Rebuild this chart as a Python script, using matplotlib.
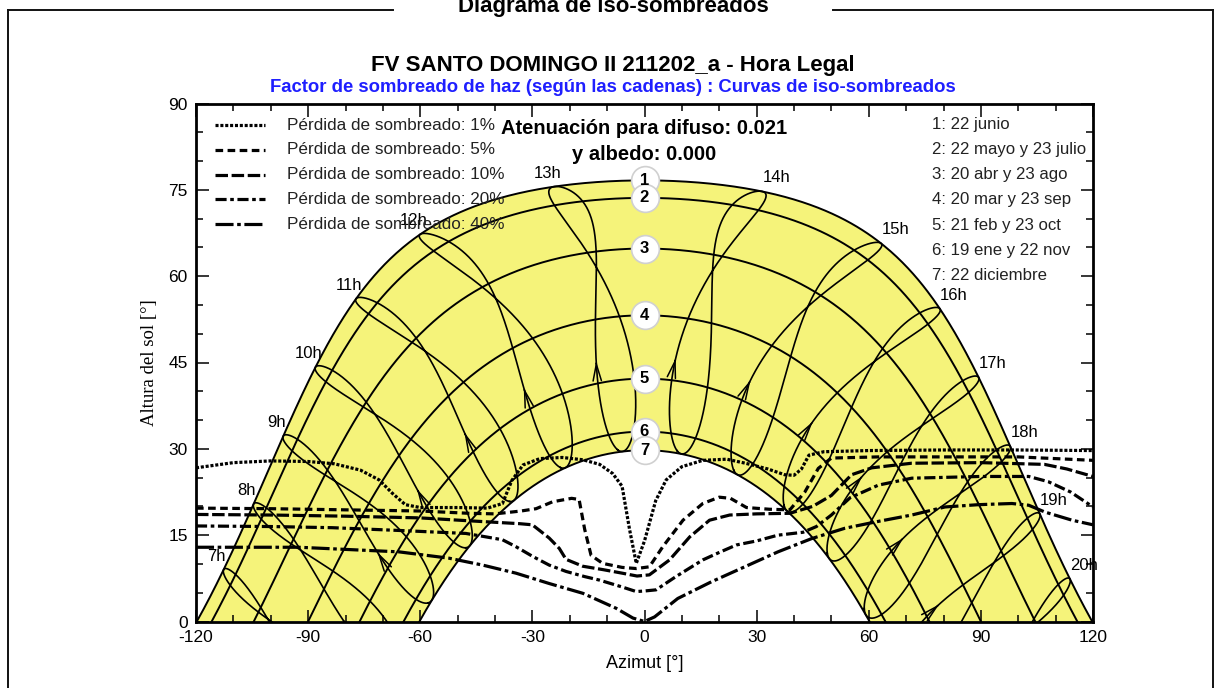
import numpy as np
import matplotlib
matplotlib.use("Agg")
import matplotlib.pyplot as plt
from matplotlib.lines import Line2D

plt.rcParams["font.family"] = ["Liberation Sans", "DejaVu Sans"]
plt.rcParams["lines.scale_dashes"] = False
plt.rcParams["axes.unicode_minus"] = False

# ---------------------------------------------------------------- site / time
LATITUDE = 36.8          # deg N
LONGITUDE = -6.0         # deg E
TIME_ZONE = 1.0          # legal time, hours from UTC

# ---------------------------------------------------------------- date curves
DATE_LABELS = ["1: 22 junio", "2: 22 mayo y 23 julio", "3: 20 abr y 23 ago",
               "4: 20 mar y 23 sep", "5: 21 feb y 23 oct", "6: 19 ene y 22 nov",
               "7: 22 diciembre"]
DATE_DECLINATIONS = [23.44, 20.4, 11.6, 0.0, -11.0, -20.2, -23.44]

# ---------------------------------------------------------------- hour lines
HOURS = list(range(7, 21))
ARROW_DAY = 62

# ---------------------------------------------------------------- iso-shading curves
ISO_LABELS = ["Pérdida de sombreado: 1%", "Pérdida de sombreado: 5%",
              "Pérdida de sombreado: 10%", "Pérdida de sombreado: 20%",
              "Pérdida de sombreado: 40%"]

ISO_1_AZ = [-120, -110, -100, -90, -83, -76, -71, -67.5, -64, -60, -50, -42, -38,
            -35.5, -32.5, -28, -22, -16.5, -12, -8.5, -6, -4, -2.2, 0, 3, 5.8, 10,
            15.6, 22, 27, 33, 37.5, 40, 42, 44, 48, 60, 80, 100, 120]
ISO_1_ALT = [26.7, 27.6, 27.9, 27.8, 27.4, 26.3, 24.6, 22.3, 20.3, 19.8, 19.8, 19.7, 20.5,
             24.5, 27.2, 28.3, 28.5, 28.1, 27.3, 25.7, 23.5, 16.0, 10.1, 14.0, 21.0, 24.6, 26.9,
             28.0, 28.2, 27.5, 26.5, 25.5, 25.4, 26.5, 28.9, 29.5, 29.7, 29.8, 29.8, 29.7]

ISO_5_AZ = [-120, -100, -80, -60, -47, -40, -33, -29, -24.6, -19.5, -17.5, -16, -14.3,
            -11.2, -6, -2.2, 1.3, 4.9, 10.3, 15.6, 20, 23, 27.3, 33.5, 38.9, 42.9, 46.5,
            50, 62.6, 80, 100, 110, 120]
ISO_5_ALT = [19.7, 19.6, 19.4, 19.2, 18.8, 18.7, 19.2, 19.6, 20.8, 21.4, 21.2, 16.0, 11.5,
             10.1, 9.4, 9.2, 9.5, 13.0, 17.6, 20.5, 21.6, 21.4, 19.8, 19.5, 19.4, 22.5, 26.6,
             28.4, 28.6, 28.6, 28.6, 28.3, 28.0]

ISO_10_AZ = [-120, -100, -80, -60, -47, -39, -33.5, -30, -25.5, -22.8, -21, -16.5, -11,
             -6, -2, 1.3, 6.7, 12.1, 17.4, 22.8, 30, 38.9, 45, 50, 55.4, 60.8, 71.5, 90,
             107, 113, 120]
ISO_10_ALT = [18.6, 18.5, 18.3, 18.0, 17.5, 17.2, 17.0, 16.8, 14.5, 12.7, 10.8, 9.6, 9.0,
              8.4, 7.9, 8.1, 10.7, 14.7, 17.6, 18.5, 18.7, 18.8, 20.0, 21.9, 25.5, 26.7, 27.5,
              27.6, 27.3, 26.5, 25.2]

ISO_20_AZ = [-120, -100, -83.6, -65, -47.8, -42.4, -38, -34.4, -29.9, -25.5, -21, -16,
             -12.1, -6, -2.2, 0, 3.1, 8.4, 15.6, 20, 24.6, 30, 35.7, 42.4, 46, 50, 55,
             62.6, 71.5, 90, 102.8, 108, 114, 120]
ISO_20_ALT = [16.6, 16.5, 16.3, 15.8, 15.3, 14.7, 14.2, 13.0, 11.3, 9.8, 8.7, 7.8,
              7.2, 6.0, 5.2, 5.3, 5.5, 7.8, 10.7, 12.0, 13.3, 14.0, 15.0, 15.5, 16.5, 18.5, 21.5,
              23.7, 24.9, 25.2, 25.2, 24.3, 22.5, 19.9]

ISO_40_AZ = [-120, -92.5, -65.7, -52.3, -43.3, -34.4, -25.5, -16.5, -7.6, -3.1, 0, 2.7,
             8.9, 17.9, 26.8, 35.7, 44.7, 53.6, 62.6, 71.5, 80.4, 89.4, 98.3, 102.8, 107.2,
             114.4, 120]
ISO_40_ALT = [12.9, 12.9, 12.1, 11.0, 9.8, 8.4, 6.6, 4.9, 2.3, 0.6, 0.0, 0.8,
              4.0, 6.9, 9.5, 12.1, 14.4, 16.2, 17.4, 18.5, 19.9, 20.3, 20.5, 20.2, 19.0,
              17.6, 16.8]

ISO_CURVES = [(ISO_1_AZ, ISO_1_ALT), (ISO_5_AZ, ISO_5_ALT), (ISO_10_AZ, ISO_10_ALT),
              (ISO_20_AZ, ISO_20_ALT), (ISO_40_AZ, ISO_40_ALT)]
ISO_DASHES = [(2.2, 1.3), (5.5, 3.2), (9, 2.6), (8, 2.6, 2.6, 2.6), (13, 2.6, 2.6, 2.6)]

FILL_COLOR = "#f5f37a"


# ---------------------------------------------------------------- solar geometry
def sun_position(dec, ha):
    """Azimuth (from south, + towards west) and altitude, degrees."""
    lat = np.radians(LATITUDE)
    d = np.radians(dec)
    h = np.radians(ha)
    sin_alt = np.sin(lat) * np.sin(d) + np.cos(lat) * np.cos(d) * np.cos(h)
    alt = np.degrees(np.arcsin(np.clip(sin_alt, -1, 1)))
    az = np.degrees(np.arctan2(np.sin(h), np.cos(h) * np.sin(lat) - np.tan(d) * np.cos(lat)))
    return az, alt


def day_path(dec, n=500):
    ws = np.degrees(np.arccos(-np.tan(np.radians(LATITUDE)) * np.tan(np.radians(dec))))
    return sun_position(dec, np.linspace(-ws, ws, n))


def declination_eot(day):
    b = 2 * np.pi * (day - 1) / 365.0
    dec = (0.006918 - 0.399912 * np.cos(b) + 0.070257 * np.sin(b)
           - 0.006758 * np.cos(2 * b) + 0.000907 * np.sin(2 * b)
           - 0.002697 * np.cos(3 * b) + 0.00148 * np.sin(3 * b))
    eot = 229.18 * (0.000075 + 0.001868 * np.cos(b) - 0.032077 * np.sin(b)
                    - 0.014615 * np.cos(2 * b) - 0.04089 * np.sin(2 * b))
    return np.degrees(dec), eot


def hour_line(hour, days):
    dec, eot = declination_eot(days)
    solar = hour + (LONGITUDE - 15.0 * TIME_ZONE) / 15.0 + eot / 60.0
    return sun_position(dec, 15.0 * (solar - 12.0))


# ---------------------------------------------------------------- figure
fig = plt.figure(figsize=(12.21, 6.88), dpi=100)
ax = fig.add_axes([196 / 1221, 1 - 621.5 / 688, 897 / 1221, 518 / 688])
ax.set_xlim(-120, 120)
ax.set_ylim(0, 90)

# band between the summer and winter solstice paths
az1, alt1 = day_path(DATE_DECLINATIONS[0])
az7, alt7 = day_path(DATE_DECLINATIONS[-1])
ax.fill(np.concatenate([az1, az7[::-1]]), np.concatenate([alt1, alt7[::-1]]),
        color=FILL_COLOR, lw=0, zorder=1)

for dec in DATE_DECLINATIONS:
    a, h = day_path(dec)
    ax.plot(a, h, color="black", lw=1.4, zorder=3)

# hour lines (analemmas over the year)
days = np.arange(1, 367, 0.5)
for hour in HOURS:
    a, h = hour_line(hour, days)
    ax.plot(a, h, color="black", lw=1.2, zorder=3)
    ta, th = hour_line(hour, np.array([ARROW_DAY - 1.0, ARROW_DAY]))
    if 0 < th[1] < 90 and -120 < ta[1] < 120:
        arr = ax.annotate("", xy=(ta[1], th[1]), xytext=(ta[0], th[0]),
                          arrowprops=dict(arrowstyle="->,head_length=1.2,head_width=0.3",
                                          lw=1.1, color="black", shrinkA=0, shrinkB=0),
                          zorder=4)
        arr.arrow_patch.set_clip_path(ax.patch)
    ja, jh = hour_line(hour, np.array([172.0]))
    off = (-5, 9.5) if ja[0] < 0 else (10, 10)
    ax.annotate(f"{hour}h", xy=(ja[0], jh[0]), xytext=off, textcoords="offset points",
                ha="center", va="center", fontsize=12, zorder=6, annotation_clip=False)

# iso-shading curves
for (az, alt), dsh in zip(ISO_CURVES, ISO_DASHES):
    ax.plot(az, alt, color="black", lw=2.3, dashes=dsh, zorder=5,
            solid_capstyle="butt", dash_capstyle="butt")

# date markers at noon
for i, dec in enumerate(DATE_DECLINATIONS):
    a0, h0 = sun_position(dec, 0.0)
    ax.scatter([a0], [h0], s=400, facecolor="white", edgecolor="#d0d0d0", lw=1.2, zorder=7)
    ax.text(a0, h0, str(i + 1), ha="center", va="center", fontsize=12,
            fontweight="bold", zorder=8)

# legend of iso curves
for i, (lab, dsh) in enumerate(zip(ISO_LABELS, ISO_DASHES)):
    yy = 1 - (125 - 103.5 + 24.8 * i) / 518
    ax.add_line(Line2D([19 / 897, 69 / 897], [yy, yy], transform=ax.transAxes,
                       color="black", lw=2.3, dashes=dsh, zorder=9))
    ax.text(91 / 897, yy, lab, transform=ax.transAxes, ha="left", va="center",
            fontsize=12.3, color="#222222", zorder=9)

# date list
for i, lab in enumerate(DATE_LABELS):
    yy = 1 - (124 - 103.5 + 25.3 * i) / 518
    ax.text((932 - 196) / 897, yy, lab, transform=ax.transAxes, ha="left", va="center",
            fontsize=12.1, color="#222222", zorder=9)

ax.text(0.0, 1 - (129 - 103.5) / 518, "Atenuación para difuso: 0.021",
        transform=ax.get_xaxis_transform(), ha="center", va="center",
        fontsize=14.5, fontweight="bold", zorder=9)
ax.text(0.0, 1 - (155 - 103.5) / 518, "y albedo: 0.000",
        transform=ax.get_xaxis_transform(), ha="center", va="center",
        fontsize=14.5, fontweight="bold", zorder=9)

# axes styling
ax.set_xticks(np.arange(-120, 121, 30))
ax.set_xticks(np.arange(-120, 121, 10), minor=True)
ax.set_yticks(np.arange(0, 91, 15))
ax.set_yticks(np.arange(0, 91, 5), minor=True)
ax.tick_params(which="both", direction="in", top=True, right=True, width=1.1,
               colors="black", labelsize=12.5)
ax.tick_params(which="major", length=9, pad=6)
ax.tick_params(which="minor", length=5)
for sp in ax.spines.values():
    sp.set_linewidth(2.0)
ax.set_xlabel("Azimut [°]", fontsize=13, labelpad=7)
ax.set_ylabel("Altura del sol [°]", fontsize=13.5, family=["Liberation Serif", "DejaVu Serif"],
              labelpad=7)

# titles
fig.text(613 / 1221, 1 - 66 / 688, "FV SANTO DOMINGO II 211202_a - Hora Legal",
         ha="center", va="center", fontsize=16, fontweight="bold")
fig.text(613 / 1221, 1 - 87 / 688,
         "Factor de sombreado de haz (según las cadenas) : Curvas de iso-sombreados",
         ha="center", va="center", fontsize=13.3, fontweight="bold", color="#1f1fff")
fig.text(613 / 1221, 1 - 12 / 688, "Diagrama de iso-sombreados",
         ha="center", va="baseline", fontsize=16, fontweight="bold")

# page frame with a gap for the heading
ytop = 1 - 10 / 688
for xs, ys in [([8, 393], [ytop, ytop]), ([833, 1213], [ytop, ytop]),
               ([8, 8], [ytop, 0]), ([1213, 1213], [ytop, 0])]:
    fig.add_artist(Line2D([x / 1221 for x in xs], ys, transform=fig.transFigure,
                          color="#111111", lw=1.4))

fig.savefig("out.png", dpi=100)
